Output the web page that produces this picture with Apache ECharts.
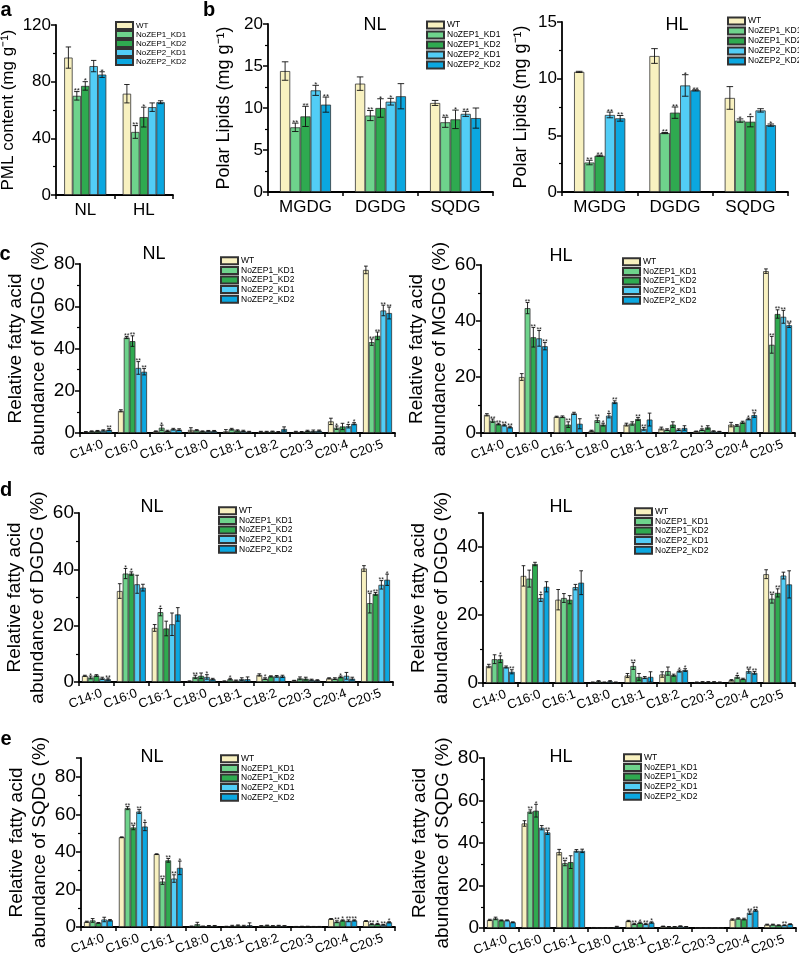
<!DOCTYPE html>
<html><head><meta charset="utf-8">
<script src="https://cdn.jsdelivr.net/npm/echarts@6/dist/echarts.min.js"></script>
<style>html,body{margin:0;padding:0;background:#fff}#c{width:799px;height:958px}</style>
</head><body><div id="c"></div>
<script>
const seriesNames = ['WT','NoZEP1_KD1','NoZEP1_KD2','NoZEP2_KD1','NoZEP2_KD2'];
const colors = ['#F8F1C0','#6ED38C','#2FAA50','#52CDF6','#0BA7E0'];
const conditions = ['NL','HL'];
const lipidClasses = ['MGDG','DGDG','SQDG'];
const fattyAcids = ['C14:0','C16:0','C16:1','C18:0','C18:1','C18:2','C20:3','C20:4','C20:5'];

// rows = categories, columns = seriesNames order
const a_mean = [[97,70,77,91,85],[71.5,44.5,55,62,65.5]];
const a_err  = [[7.5,3,3,4,2],[6.5,4.5,7,3,1]];
const a_sig  = [['','**','*','','*'],['','**','*','','']];

const bNL_mean = [[14.4,7.7,9.0,12.1,10.4],[12.9,9.1,10.0,10.75,11.4],[10.6,8.3,8.65,9.3,8.8]];
const bNL_err  = [[1.1,0.5,1.2,0.6,0.9],[0.8,0.6,1.1,0.4,1.5],[0.3,0.6,1.1,0.3,1.2]];
const bNL_sig  = [['','**','**','*','**'],['','**','*','*',''],['','**','*','**','']];

const bHL_mean = [[10.6,2.6,3.2,6.8,6.5],[12.0,5.2,7.0,9.4,8.97],[8.3,6.3,6.2,7.2,5.9]];
const bHL_err  = [[0.05,0.2,0.05,0.25,0.25],[0.65,0.05,0.5,0.95,0.05],[1.0,0.15,0.45,0.15,0.1]];
const bHL_sig  = [['','**','**','**','**'],['','**','**','*','**'],['','*','*','','*']];

const cNL_mean = [[0.5,0.8,1.0,1.2,1.6],[10.5,45.2,43.5,30.8,29.0],[0.8,2.5,1.0,1.8,1.6],[1.5,1.3,0.8,1.0,1.0],[0.8,1.8,1.2,1.0,0.6],[0.6,0.6,0.7,0.5,1.9],[0.6,0.5,1.0,0.9,1.1],[5.5,2.5,3.1,3.2,4.4],[77.2,43.0,46.0,58.0,56.8]];
const cNL_err  = [[0.2,0.2,0.2,0.3,0.5],[0.5,0.5,2.5,3.0,1.5],[0.2,1.2,0.3,0.4,0.4],[1.0,0.3,0.2,0.2,0.2],[0.8,0.4,0.3,0.3,0.2],[0.2,0.2,0.2,0.2,1.0],[0.2,0.2,0.3,0.5,0.3],[1.5,0.8,1.5,0.8,0.5],[1.8,1.5,1.8,2.5,2.8]];
const cNL_sig  = [['','','','','**'],['','**','**','**','**'],['','*','','',''],['','','','',''],['','','','',''],['','','','',''],['','','','',''],['','*','','*','*'],['','**','**','**','**']];

const cHL_mean = [[6.5,4.4,3.2,2.8,2.1],[20.0,44.6,34.2,33.8,31.0],[5.8,5.8,3.0,7.0,3.3],[0.8,4.6,3.0,6.2,11.0],[3.0,3.4,5.0,1.5,4.8],[1.6,1.2,3.0,1.2,1.8],[0.6,1.2,2.0,0.6,0.5],[3.0,2.7,3.8,5.0,6.4],[57.8,31.5,42.5,41.5,38.5]];
const cHL_err  = [[0.4,0.6,0.3,0.3,0.3],[1.2,2.0,3.5,2.8,1.3],[0.2,0.3,1.0,0.4,1.8],[0.2,0.8,0.5,0.8,0.5],[0.5,0.6,0.5,0.5,2.3],[0.5,0.3,1.0,0.3,0.8],[0.1,0.3,0.6,0.2,0.1],[0.8,0.3,0.4,0.3,0.8],[0.8,3.0,1.5,2.3,0.8]];
const cHL_sig  = [['','**','**','**','**'],['','**','**','**','**'],['','','**','',''],['','**','*','*','**'],['','','**','**',''],['','','','',''],['','*','','',''],['','','','*','**'],['','**','**','**','**']];

const dNL_mean = [[2.2,1.6,2.3,1.3,1.0],[32.3,38.5,38.5,34.7,33.5],[19.2,24.8,19.0,20.5,24.0],[0.3,1.8,2.2,1.8,1.0],[0.3,1.0,0.5,1.0,1.0],[2.5,1.2,2.0,2.0,2.0],[0.5,1.3,1.2,0.8,0.6],[1.3,1.2,1.8,2.2,1.2],[40.3,28.0,31.3,34.5,36.3]];
const dNL_err  = [[0.2,0.5,0.3,0.4,0.4],[2.6,1.8,0.6,3.2,1.2],[1.2,1.3,2.6,4.0,2.4],[0.1,0.6,1.0,0.8,0.3],[0.1,0.3,0.2,0.5,0.8],[0.4,0.3,0.2,0.3,0.4],[0.1,0.5,0.5,0.2,0.2],[0.2,0.3,0.3,1.2,0.5],[1.0,3.5,0.5,1.5,2.0]];
const dNL_sig  = [['','*','','','**'],['','*','*','',''],['','*','','',''],['','**','','*',''],['','*','','',''],['','*','','',''],['','','','',''],['','','*','',''],['','**','**','**','*']];

const dHL_mean = [[5.0,7.0,7.0,4.7,3.3],[31.5,30.7,35.0,25.0,28.3],[24.5,25.0,24.5,28.2,29.5],[0.2,0.5,0.2,0.5,0.2],[2.2,5.0,1.8,1.6,1.8],[2.5,3.5,2.3,3.5,3.8],[0.2,0.3,0.3,0.3,0.2],[0.8,1.8,1.2,3.5,3.0],[32.0,24.8,26.5,31.6,29.0]];
const dHL_err  = [[0.5,1.3,1.0,0.3,0.6],[3.0,2.5,0.5,1.0,1.5],[3.0,1.3,1.2,0.8,3.5],[0.1,0.2,0.1,0.2,0.1],[0.6,1.0,1.0,0.3,1.5],[0.8,1.2,0.3,0.3,0.4],[0.1,0.1,0.1,0.1,0.1],[0.2,0.4,0.2,0.6,0.4],[1.3,1.3,1.2,1.0,4.0]];
const dHL_sig  = [['','','*','','**'],['','','','*',''],['','','','',''],['','','','',''],['','**','','',''],['','','','*','*'],['','','','',''],['','*','','**','**'],['','**','**','','']];

const eNL_mean = [[2.8,3.5,2.2,4.0,3.6],[47.8,63.3,53.0,61.5,53.5],[38.8,24.2,35.5,25.8,31.5],[0.4,1.5,0.4,0.6,0.6],[0.3,0.6,0.8,0.6,1.0],[0.6,0.8,0.6,0.7,0.6],[0.2,0.3,0.3,0.2,0.2],[4.3,2.8,3.5,3.3,3.5],[3.2,1.5,1.6,1.2,2.5]];
const eNL_err  = [[0.3,1.0,0.2,1.2,0.4],[0.2,0.8,1.2,1.0,2.2],[0.2,1.5,1.0,2.0,3.6],[0.1,1.0,0.1,0.2,0.2],[0.1,0.3,0.3,0.3,1.2],[0.1,0.2,0.1,0.2,0.1],[0.1,0.1,0.1,0.1,0.1],[0.2,0.5,0.3,0.5,0.3],[0.2,0.3,0.3,0.2,0.3]];
const eNL_sig  = [['','','','',''],['','**','**','**','*'],['','**','**','**','*'],['','','','',''],['','','','',''],['','','','',''],['','','','',''],['','**','*','**','**'],['','**','*','**','*']];

const eHL_mean = [[3.8,4.5,3.6,3.6,2.7],[49.2,54.8,55.2,47.2,45.0],[35.7,30.5,31.0,36.3,36.3],[0.2,0.1,0.1,0.1,0.6],[3.3,1.9,2.5,1.9,2.6],[0.8,0.6,0.6,0.9,0.6],[0.1,0.1,0.1,0.1,0.1],[4.0,4.5,4.2,7.2,8.3],[1.6,1.6,1.3,1.3,1.8]];
const eHL_err  = [[0.3,0.6,0.2,0.2,0.2],[1.3,0.8,3.0,1.0,1.0],[1.3,1.2,3.0,0.6,0.8],[0.05,0.05,0.05,0.05,0.2],[0.3,0.3,0.3,0.3,0.3],[0.1,0.1,0.1,0.1,0.1],[0.05,0.05,0.05,0.05,0.05],[0.3,0.3,0.4,0.8,0.4],[0.2,0.2,0.2,0.2,0.2]];
const eHL_sig  = [['','','','',''],['','**','*','','**'],['','**','','',''],['','','','',''],['','**','*','**','*'],['','','','',''],['','','','',''],['','','','**','**'],['','','','**','']];

const FONT = '"Liberation Sans", Arial, Helvetica, sans-serif';
const nameFA = t => 'Relative fatty acid\nabundance of ' + t + ' (%)';

const panels = [
  {cats:conditions, mean:a_mean, err:a_err, sig:a_sig, grid:{left:56,top:25,width:117,height:170}, max:120, interval:40,
   name:'PML content (mg g⁻¹)', nameFont:17, nameGap:30, tickFont:17, catFont:17, rotate:0, gap:0.28, starFont:8,
   legend:{left:115,top:21}, legFont:8, legLH:9, title:null},
  {cats:lipidClasses, mean:bNL_mean, err:bNL_err, sig:bNL_sig, grid:{left:268,top:24,width:225,height:168}, max:20, interval:5,
   name:'Polar Lipids (mg g⁻¹)', nameFont:18, nameGap:33, tickFont:17, catFont:17, rotate:0, gap:0.32, starFont:8,
   legend:{left:426,top:20}, legFont:8.5, legLH:10, title:{text:'NL',x:375,y:25}},
  {cats:lipidClasses, mean:bHL_mean, err:bHL_err, sig:bHL_sig, grid:{left:562,top:22,width:226,height:170}, max:15, interval:5,
   name:'Polar Lipids (mg g⁻¹)', nameFont:18, nameGap:30, tickFont:17, catFont:17, rotate:0, gap:0.32, starFont:8,
   legend:{left:727,top:16}, legFont:8.5, legLH:10, title:{text:'HL',x:677,y:25}},
  {cats:fattyAcids, mean:cNL_mean, err:cNL_err, sig:cNL_sig, grid:{left:80,top:264,width:315,height:169}, max:80, interval:20,
   name:nameFA('MGDG'), nameFont:19, nameGap:24, tickFont:19, catFont:13, rotate:20, gap:0.17, starFont:7,
   legend:{left:220,top:256}, legFont:8.5, legLH:9.6, title:{text:'NL',x:154,y:254}},
  {cats:fattyAcids, mean:cHL_mean, err:cHL_err, sig:cHL_sig, grid:{left:481,top:265,width:314,height:168}, max:60, interval:20,
   name:nameFA('MGDG'), nameFont:19, nameGap:24, tickFont:19, catFont:13, rotate:20, gap:0.17, starFont:7,
   legend:{left:622,top:257}, legFont:8.5, legLH:9.6, title:{text:'HL',x:561,y:256}},
  {cats:fattyAcids, mean:dNL_mean, err:dNL_err, sig:dNL_sig, grid:{left:79,top:513,width:314,height:169}, max:60, interval:20,
   name:nameFA('DGDG'), nameFont:19, nameGap:24, tickFont:19, catFont:13, rotate:20, gap:0.17, starFont:7,
   legend:{left:218,top:506}, legFont:8.5, legLH:9.6, title:{text:'NL',x:152,y:507}},
  {cats:fattyAcids, mean:dHL_mean, err:dHL_err, sig:dHL_sig, grid:{left:483,top:513,width:312,height:170}, max:50, interval:20, hideMax:true,
   name:nameFA('DGDG'), nameFont:19, nameGap:24, tickFont:19, catFont:13, rotate:20, gap:0.17, starFont:7,
   legend:{left:634,top:507}, legFont:8.5, legLH:9.6, title:{text:'HL',x:561,y:507}},
  {cats:fattyAcids, mean:eNL_mean, err:eNL_err, sig:eNL_sig, grid:{left:81,top:758,width:314,height:169}, max:90, interval:20, hideMax:true,
   name:nameFA('SQDG'), nameFont:19, nameGap:24, tickFont:19, catFont:13, rotate:20, gap:0.17, starFont:7,
   legend:{left:220,top:754}, legFont:8.5, legLH:9.6, title:{text:'NL',x:152,y:757}},
  {cats:fattyAcids, mean:eHL_mean, err:eHL_err, sig:eHL_sig, grid:{left:484,top:758,width:312,height:170}, max:80, interval:20,
   name:nameFA('SQDG'), nameFont:19, nameGap:24, tickFont:19, catFont:13, rotate:20, gap:0.17, starFont:7,
   legend:{left:623,top:753}, legFont:8.5, legLH:9.6, title:{text:'HL',x:561,y:757}}
];

const panelLetters = [
  {text:'a', x:6, y:10}, {text:'b', x:209, y:10}, {text:'c', x:5, y:254}, {text:'d', x:6, y:490}, {text:'e', x:6, y:739}
];

const option = {animation:false, backgroundColor:'#fff', grid:[], xAxis:[], yAxis:[], series:[], legend:[], graphic:[]};
const axisLineStyle = {color:'#000', width:1.8};

panels.forEach((p, i) => {
  option.grid.push(Object.assign({outerBoundsMode:'none', containLabel:false}, p.grid));
  const xLabel = p.rotate
    ? {color:'#000', fontSize:p.catFont, fontFamily:FONT, rotate:p.rotate, interval:0, margin:6,
       align:'center', verticalAlign:'top', padding:[0,28,0,0]}
    : {color:'#000', fontSize:p.catFont, fontFamily:FONT, interval:0, margin:7};
  option.xAxis.push({
    type:'category', gridIndex:i, data:p.cats,
    axisLine:{show:true, lineStyle:axisLineStyle},
    axisTick:{show:true, length:4, lineStyle:{color:'#000', width:1.5}},
    axisLabel:xLabel,
    splitLine:{show:false}
  });
  option.yAxis.push({
    type:'value', gridIndex:i, min:0, max:p.max, interval:p.interval,
    axisLine:{show:true, lineStyle:axisLineStyle},
    axisTick:{show:true, length:5, lineStyle:{color:'#000', width:1.5}},
    minorTick:{show:true, splitNumber:2, length:3, lineStyle:{color:'#000', width:1.2}},
    splitLine:{show:false}, minorSplitLine:{show:false},
    axisLabel:{color:'#000', fontSize:p.tickFont, fontFamily:FONT, margin:5, showMaxLabel: !p.hideMax},
    name:p.name, nameLocation:'middle', nameGap:p.nameGap, nameRotate:90,
    nameTextStyle:{color:'#000', fontSize:p.nameFont, fontFamily:FONT, lineHeight:p.nameFont + 4}
  });
  seriesNames.forEach((sn, s) => {
    option.series.push({
      type:'bar', name:sn, xAxisIndex:i, yAxisIndex:i,
      data:p.cats.map((c, k) => p.mean[k][s]),
      barGap:'0%', barCategoryGap:(p.gap*100) + '%',
      itemStyle:{color:colors[s], borderColor:'#333', borderWidth:0.8},
      silent:true
    });
  });
  const items = [];
  p.cats.forEach((c, k) => seriesNames.forEach((sn, s) => items.push([k, s, p.mean[k][s], p.err[k][s]])));
  option.series.push({
    type:'custom', xAxisIndex:i, yAxisIndex:i, data:items, encode:{x:0, y:2}, z:10, silent:true,
    renderItem:(params, api) => {
      const it = items[params.dataIndex];
      const k = it[0], s = it[1], m = it[2], e = it[3];
      const bandW = api.size([1, 0])[0];
      const groupW = bandW * (1 - p.gap);
      const bw = groupW / 5;
      const cx = api.coord([k, 0])[0] - groupW / 2 + (s + 0.5) * bw;
      const yT = api.coord([k, m + e])[1];
      const yB = api.coord([k, Math.max(m - e, 0)])[1];
      const cap = bw * 0.32;
      const ls = {stroke:'#111', lineWidth:0.9};
      const ch = [
        {type:'line', shape:{x1:cx, y1:yT, x2:cx, y2:yB}, style:ls},
        {type:'line', shape:{x1:cx - cap, y1:yT, x2:cx + cap, y2:yT}, style:ls},
        {type:'line', shape:{x1:cx - cap, y1:yB, x2:cx + cap, y2:yB}, style:ls}
      ];
      const sg = p.sig[k][s];
      if (sg) ch.push({type:'text', style:{text:sg, x:cx, y:yT + p.starFont * 0.45, align:'center', verticalAlign:'bottom',
        fontSize:p.starFont, fontFamily:FONT, fill:'#222'}});
      return {type:'group', children:ch};
    }
  });
  option.legend.push({
    data:seriesNames, orient:'vertical', left:p.legend.left, top:p.legend.top, padding:0,
    itemWidth:17, itemHeight:7, itemGap:0, icon:'rect', selectedMode:false,
    textStyle:{color:'#000', fontSize:p.legFont, fontFamily:FONT, lineHeight:p.legLH, padding:[0,0,0,-2]}
  });
  if (p.title) option.graphic.push({type:'text', x:p.title.x, y:p.title.y,
    style:{text:p.title.text, fontSize:18, fontFamily:FONT, fill:'#000', align:'center', verticalAlign:'middle'}});
});
panelLetters.forEach(L => option.graphic.push({type:'text', x:L.x, y:L.y,
  style:{text:L.text, fontSize:20, fontWeight:'bold', fontFamily:FONT, fill:'#000', align:'center', verticalAlign:'middle'}}));

const chart = echarts.init(document.getElementById('c'), null, {renderer:'canvas', width:799, height:958});
chart.setOption(option);
</script>
</body></html>
